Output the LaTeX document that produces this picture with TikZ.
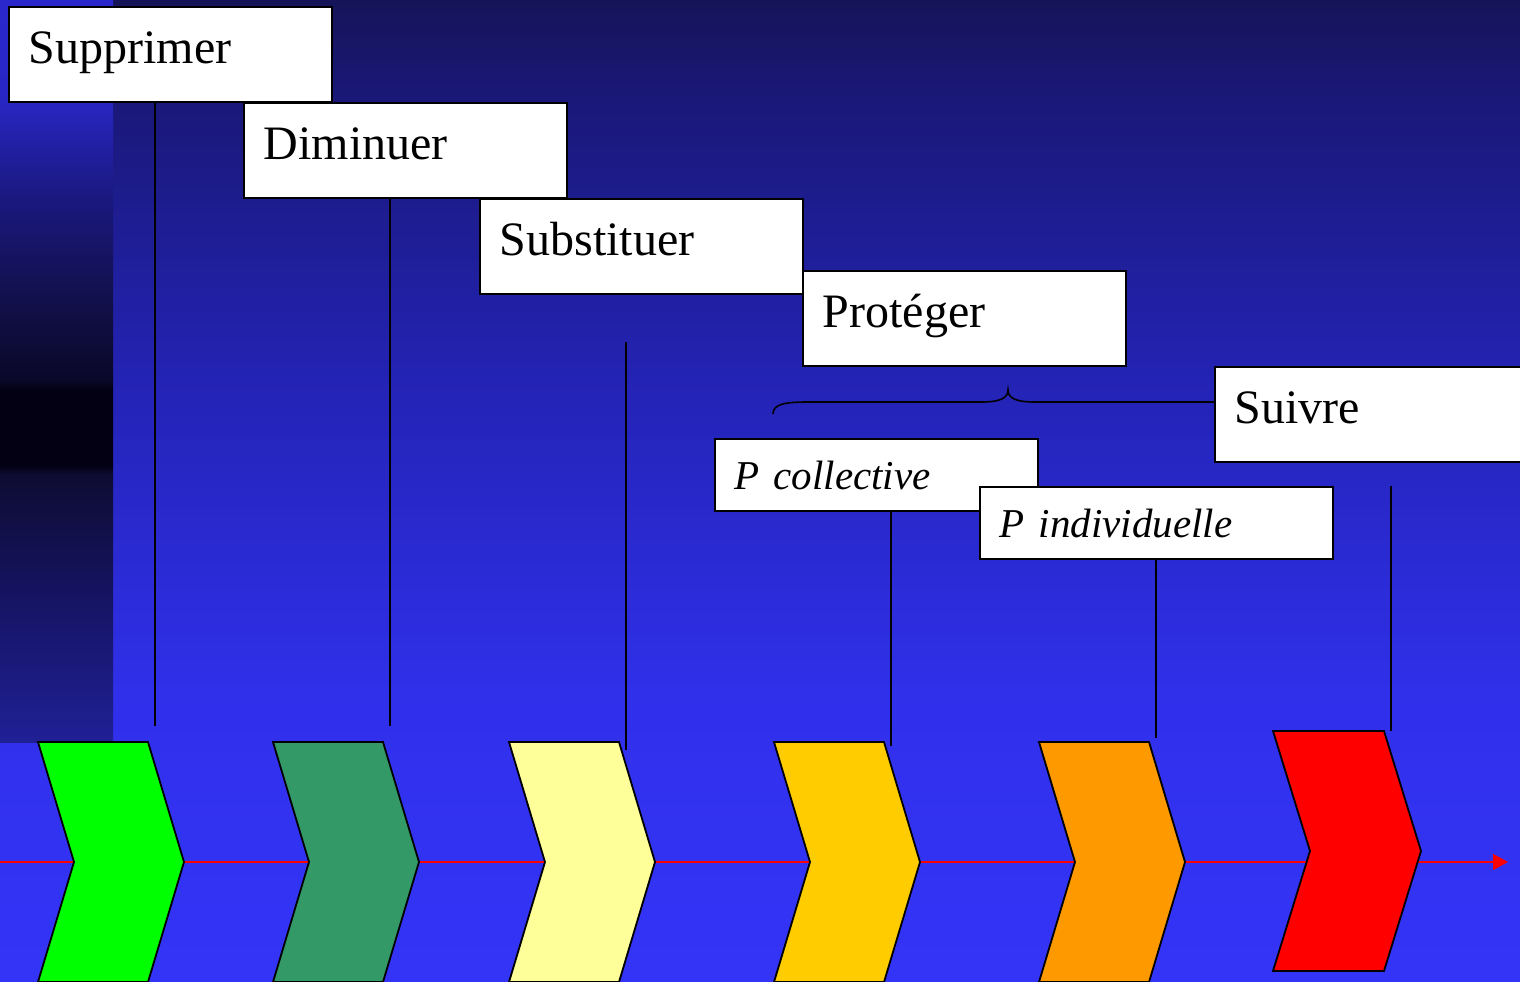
\documentclass[tikz,border=0pt]{standalone}
\usepackage{fontspec}
\setmainfont{Liberation Serif}
\usetikzlibrary{arrows.meta}
\definecolor{bgt}{RGB}{22,20,88}
\definecolor{bgone}{RGB}{26,24,120}
\definecolor{bgfour}{RGB}{36,36,185}
\definecolor{bgseven}{RGB}{48,48,235}
\definecolor{bgb}{RGB}{52,52,248}
\pgfdeclareverticalshading{bgshade}{100bp}{color(0bp)=(bgb); color(25bp)=(bgb); color(39.5bp)=(bgseven); color(54.5bp)=(bgfour); color(70bp)=(bgone); color(75bp)=(bgt); color(100bp)=(bgt)}
\definecolor{sa}{RGB}{42,40,205}
\definecolor{sb}{RGB}{40,38,195}
\definecolor{sc}{RGB}{26,24,125}
\definecolor{sd}{RGB}{18,16,75}
\definecolor{se}{RGB}{10,8,40}
\definecolor{sf}{RGB}{2,0,18}
\definecolor{sg}{RGB}{14,12,50}
\definecolor{sh}{RGB}{22,20,100}
\definecolor{si}{RGB}{32,32,150}
\pgfdeclareverticalshading{stripshade}{100bp}{color(0bp)=(si); color(25bp)=(si); color(34.5bp)=(sh); color(43bp)=(sg); color(43.65bp)=(sf); color(48.7bp)=(sf); color(49.4bp)=(se); color(54.8bp)=(sd); color(61.5bp)=(sc); color(68.25bp)=(sb); color(75bp)=(sa); color(100bp)=(sa)}
\definecolor{cgreen}{RGB}{0,255,0}
\definecolor{cseagreen}{RGB}{51,153,102}
\definecolor{cyellow}{RGB}{255,255,153}
\definecolor{cgold}{RGB}{255,204,0}
\definecolor{corange}{RGB}{255,153,0}
\definecolor{cred}{RGB}{255,0,0}
\newcommand{\mychev}[4]{\draw[chevbox,fill=#3] (#1,#2) -- ++(#4,0) -- ++(36,120) -- ++(-36,120) -- ++(-#4,0) -- ++(36,-120) -- cycle;}
\begin{document}
\begin{tikzpicture}[x=1pt,y=-1pt,
  bigbox/.style={draw, line width=1.8pt, fill=white, anchor=north west, inner xsep=20pt, inner ysep=0pt, text height=57pt, text depth=38pt, align=left, font=\fontsize{48}{58}\selectfont},
  smallbox/.style={draw, line width=1.8pt, fill=white, anchor=north west, inner xsep=20pt, inner ysep=0pt, text height=51pt, text depth=21pt, align=left, font=\fontsize{41}{50}\selectfont\itshape},
  link/.style={line width=1.8pt, black},
  chevbox/.style={line width=1.8pt, draw=black, line join=miter}]
\useasboundingbox (0,0) rectangle (1520,982);
\clip (0,0) rectangle (1520,982);
\fill[shading=bgshade] (0,0) rectangle (1520,982);
\fill[shading=stripshade] (0,0) rectangle (113,742);
% timeline
\coordinate (tstart) at (0,862);
\coordinate (tend) at (1508,862);
\draw[red, line width=1.6pt, -{Triangle[length=15pt,width=16pt]}] (tstart) -- (tend);
% chevrons
\mychev{38}{742}{cgreen}{110}
\mychev{273}{742}{cseagreen}{110}
\mychev{509}{742}{cyellow}{110}
\mychev{774}{742}{cgold}{110}
\mychev{1039}{742}{corange}{110}
\draw[chevbox,fill=cred] (1273,731) -- ++(111,0) -- ++(37,120) -- ++(-37,120) -- ++(-111,0) -- ++(37,-120) -- cycle;
% boxes
\node[bigbox, text width=283pt] (sup) at (8,6) {Supprimer};
\node[bigbox, text width=283pt] (dim) at (243,102) {Diminuer};
\node[bigbox, text width=283pt] (sub) at (479,198) {Substituer};
\node[bigbox, text width=283pt] (pro) at (802,270) {Protéger};
\node[bigbox, text width=300pt] (sui) at (1214,366) {Suivre};
\node[smallbox, text width=283pt] (pcol) at (714,438) {P collective};
\node[smallbox, text width=313pt] (pind) at (979,486) {P individuelle};
% connectors
\coordinate (e1) at (155,726);
\coordinate (e2) at (390,726);
\coordinate (s3) at (626,342);
\coordinate (e3) at (626,750);
\coordinate (e4) at (891,746);
\coordinate (e5) at (1156,738);
\coordinate (s6) at (1391,486);
\coordinate (e6) at (1391,731);
\draw[link] (sup.south -| e1) -- (e1);
\draw[link] (dim.south -| e2) -- (e2);
\draw[link] (s3) -- (e3);
\draw[link] (pcol.south -| e4) -- (e4);
\draw[link] (pind.south -| e5) -- (e5);
\draw[link] (s6) -- (e6);
% brace
\coordinate (bl) at (773,414);
\coordinate (bp) at (1008,390);
\coordinate (br) at (sui.north west |- 0,402);
\draw[link, line width=1.6pt] (bl) .. controls (773,404) and (785,402) .. (808,402) -- (982,402) .. controls (1000,402) and (1008,398) .. (bp) .. controls (1008,398) and (1016,402) .. (1034,402) -- (br);
\end{tikzpicture}
\end{document}
